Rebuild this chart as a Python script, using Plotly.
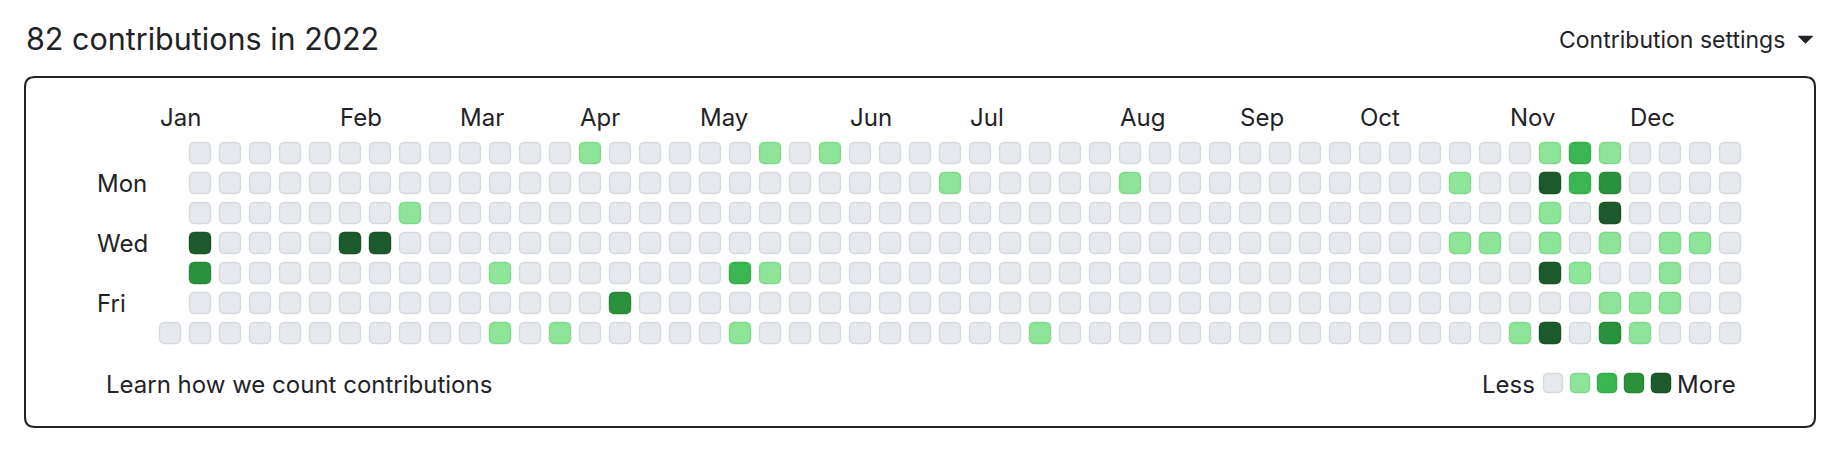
import datetime as dt
import numpy as np
import plotly.graph_objects as go

# ---------------- data ----------------
YEAR = 2022
TITLE = "82 contributions in 2022"
SETTINGS_LABEL = "Contribution settings"
FOOTER_LABEL = "Learn how we count contributions"

# days with contributions (estimated counts, read from the colour level)
contrib_dates = [
    "2022-01-05", "2022-01-06", "2022-02-09", "2022-02-16", "2022-02-22",
    "2022-03-17", "2022-03-19", "2022-04-02", "2022-04-03", "2022-04-15",
    "2022-05-12", "2022-05-14", "2022-05-15", "2022-05-19", "2022-05-29",
    "2022-06-27", "2022-07-23", "2022-08-08", "2022-10-24", "2022-10-26",
    "2022-11-02", "2022-11-12", "2022-11-13", "2022-11-14", "2022-11-15",
    "2022-11-16", "2022-11-17", "2022-11-19", "2022-11-20", "2022-11-21",
    "2022-11-24", "2022-11-27", "2022-11-28", "2022-11-29", "2022-11-30",
    "2022-12-02", "2022-12-03", "2022-12-09", "2022-12-10", "2022-12-14",
    "2022-12-15", "2022-12-16", "2022-12-21",
]
contrib_counts = [
    5, 3, 5, 5, 1,
    1, 1, 1, 1, 3,
    2, 1, 1, 1, 1,
    1, 1, 1, 1, 1,
    1, 1, 1, 5, 1,
    1, 5, 5, 2, 2,
    1, 1, 3, 5, 1,
    1, 3, 1, 1, 1,
    1, 1, 1,
]
level_thresholds = [1, 2, 3, 4]          # count >= threshold -> level index
month_names = ["Jan", "Feb", "Mar", "Apr", "May", "Jun",
               "Jul", "Aug", "Sep", "Oct", "Nov", "Dec"]
day_labels = ["", "Mon", "", "Wed", "", "Fri", ""]
legend_levels = [0, 1, 2, 3, 4]

# ---------------- style ----------------
PAGE_W, PAGE_H = 1836, 452
BODY_MARGIN = 8                      # default page margin around the plot div
W, H = PAGE_W - 2 * BODY_MARGIN, PAGE_H - 2 * BODY_MARGIN
FONT = "Inter, Roboto, 'Noto Sans', sans-serif"
TEXT = "#1f2328"
LEVEL_FILL = ["#e5e8ec", "#8ee59a", "#3ab750", "#2a913c", "#1d5a2b"]
LEVEL_LINE = ["#d6d9de", "#80d88c", "#34ad49", "#268836", "#1a5227"]
PITCH = 30.0        # px per column/row
CELL = 21.0         # px cell size (plus stroke)
RADIUS = 4.5        # px
X0_PX, Y0_PX = 170.0, 153.0   # page-pixel centre of column 0 / row 0
BODY_SIZE = 24


def X(px):  # page pixel -> data x
    return (px - X0_PX) / PITCH


def Y(py):  # page pixel -> data y (reversed axis)
    return (py - Y0_PX) / PITCH


def rounded_square(cx, cy, size, radius, n=6):
    h = size / 2.0
    r = radius
    pts = []
    corners = [(cx + h - r, cy - h + r, -90, 0), (cx + h - r, cy + h - r, 0, 90),
               (cx - h + r, cy + h - r, 90, 180), (cx - h + r, cy - h + r, 180, 270)]
    for ccx, ccy, a0, a1 in corners:
        for a in np.linspace(np.radians(a0), np.radians(a1), n):
            pts.append((ccx + r * np.cos(a), ccy + r * np.sin(a)))
    pts.append(pts[0])
    return pts


# ---------------- grid layout from dates ----------------
start = dt.date(YEAR, 1, 1)
end = dt.date(YEAR, 12, 31)
grid_start = start - dt.timedelta(days=(start.weekday() + 1) % 7)   # Sunday
count_by_date = {dt.date.fromisoformat(d): c for d, c in zip(contrib_dates, contrib_counts)}


def level_of(c):
    lv = 0
    for i, t in enumerate(level_thresholds):
        if c >= t:
            lv = i + 1
    return lv


size_u = CELL / PITCH
rad_u = RADIUS / PITCH
poly_x = {lv: [] for lv in range(5)}
poly_y = {lv: [] for lv in range(5)}
hx, hy, htext = [], [], []
month_cols = {}
d = start
while d <= end:
    off = (d - grid_start).days
    col, row = off // 7, off % 7
    c = count_by_date.get(d, 0)
    lv = level_of(c)
    for px, py in rounded_square(col, row, size_u, rad_u):
        poly_x[lv].append(px)
        poly_y[lv].append(py)
    poly_x[lv].append(None)
    poly_y[lv].append(None)
    hx.append(col)
    hy.append(row)
    htext.append(f"{c if c else 'No'} contribution{'s' if c != 1 else ''} on {d.strftime('%B %-d')}")
    d += dt.timedelta(days=1)

# month label: first column whose first in-year day belongs to the month
col = 0
while True:
    first_day = max(grid_start + dt.timedelta(days=7 * col), start)
    if first_day > end:
        break
    m = first_day.month
    if m not in month_cols:
        month_cols[m] = col
    col += 1

fig = go.Figure()
for lv in range(5):
    fig.add_trace(go.Scatter(
        x=poly_x[lv], y=poly_y[lv], mode="lines", fill="toself",
        fillcolor=LEVEL_FILL[lv], line=dict(color=LEVEL_LINE[lv], width=1.4),
        hoverinfo="skip", showlegend=False))
fig.add_trace(go.Scatter(x=hx, y=hy, mode="markers", text=htext, hoverinfo="text",
                         marker=dict(size=22, opacity=0), showlegend=False))

# legend squares
LEG_X0, LEG_PITCH, LEG_Y, LEG_SIZE = 1553.0, 27.0, 383.0, 19.0
lx = {lv: [] for lv in range(5)}
ly = {lv: [] for lv in range(5)}
for i, lv in enumerate(legend_levels):
    for px, py in rounded_square(X(LEG_X0 + i * LEG_PITCH), Y(LEG_Y), LEG_SIZE / PITCH, 4 / PITCH):
        lx[lv].append(px)
        ly[lv].append(py)
    lx[lv].append(None)
    ly[lv].append(None)
for lv in legend_levels:
    fig.add_trace(go.Scatter(
        x=lx[lv], y=ly[lv], mode="lines", fill="toself",
        fillcolor=LEVEL_FILL[lv], line=dict(color=LEVEL_LINE[lv], width=1.4),
        hoverinfo="skip", showlegend=False))

annotations = []


def text(x, y, s, size, anchor="left"):
    annotations.append(dict(x=x, y=y, xref="x", yref="y", text=s, showarrow=False,
                            xanchor=anchor, yanchor="middle",
                            font=dict(family=FONT, size=size, color=TEXT)))


text(X(24), Y(38), TITLE, 30.5)
text(X(1787), Y(40), SETTINGS_LABEL, 23, anchor="right")
for m, c in month_cols.items():
    text(c - size_u / 2 - 0.05, Y(117), month_names[m - 1], BODY_SIZE)
for r, lab in enumerate(day_labels):
    if lab:
        text(X(95), r, lab, BODY_SIZE)
text(X(104), Y(384), FOOTER_LABEL, BODY_SIZE)
text(X(1537), Y(384), "Less", BODY_SIZE, anchor="right")
text(X(1675), Y(384), "More", BODY_SIZE)

# outer box (rounded) and caret
bx0, bx1, by0, by1, br = X(25), X(1815), Y(77), Y(427), 10 / PITCH
ry = br
box_path = (f"M {bx0 + br},{by0} L {bx1 - br},{by0} Q {bx1},{by0} {bx1},{by0 + ry} "
            f"L {bx1},{by1 - ry} Q {bx1},{by1} {bx1 - br},{by1} L {bx0 + br},{by1} "
            f"Q {bx0},{by1} {bx0},{by1 - ry} L {bx0},{by0 + ry} Q {bx0},{by0} {bx0 + br},{by0} Z")
caret_path = f"M {X(1798)},{Y(36)} L {X(1813)},{Y(36)} L {X(1805.5)},{Y(43.5)} Z"
shapes = [
    dict(type="path", path=box_path, xref="x", yref="y",
         line=dict(color=TEXT, width=2), fillcolor="rgba(0,0,0,0)", layer="below"),
    dict(type="path", path=caret_path, xref="x", yref="y",
         line=dict(color=TEXT, width=0.5), fillcolor=TEXT),
]

fig.update_layout(
    width=W, height=H,
    margin=dict(l=0, r=0, t=0, b=0, pad=0),
    paper_bgcolor="white", plot_bgcolor="white",
    xaxis=dict(range=[X(BODY_MARGIN), X(BODY_MARGIN + W)], visible=False, fixedrange=True),
    yaxis=dict(range=[Y(BODY_MARGIN + H), Y(BODY_MARGIN)], visible=False, fixedrange=True),
    annotations=annotations, shapes=shapes,
    hoverlabel=dict(font=dict(family=FONT)),
)
fig.write_html("out.html")
